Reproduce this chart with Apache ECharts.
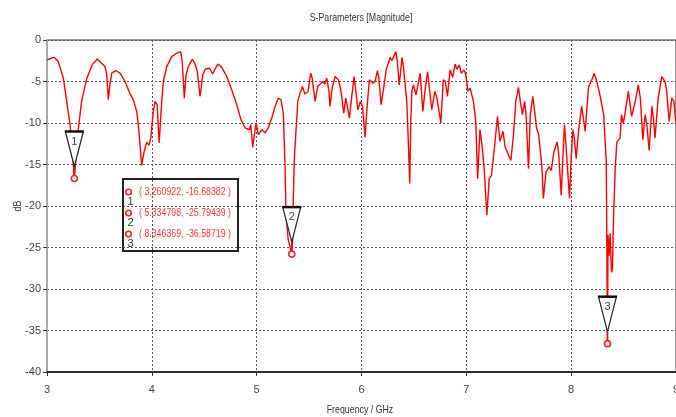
<!DOCTYPE html>
<html>
<head>
<meta charset="utf-8">
<script src="https://cdn.jsdelivr.net/npm/echarts@6/dist/echarts.min.js"></script>
<style>
html,body{margin:0;padding:0;background:#fff;}
#chart{width:676px;height:417px;}
</style>
</head>
<body>
<div id="chart"></div>
<script>
// Frequency (GHz) samples
const freq = [
3.00,3.04,3.07,3.108,3.156,3.188,3.22,3.24,3.261,3.28,3.30,3.33,3.38,3.43,3.48,3.52,3.553,3.57,3.585,3.60,
3.617,3.655,3.697,3.744,3.79,3.823,3.856,3.88,3.903,3.926,3.95,3.973,3.99,4.014,4.03,4.05,4.07,4.094,4.11,4.142,
4.19,4.237,4.275,4.29,4.31,4.326,4.348,4.36,4.386,4.41,4.434,4.46,4.486,4.51,4.55,4.58,4.603,4.63,4.667,4.715,
4.762,4.81,4.85,4.89,4.93,4.944,4.963,4.978,4.994,5.016,5.05,5.08,5.11,5.144,5.176,5.207,5.233,5.255,5.27,5.28,
5.30,5.335,5.343,5.35,5.36,5.373,5.392,5.414,5.436,5.46,5.49,5.516,5.53,5.557,5.583,5.60,5.63,5.65,5.668,5.69,
5.70,5.72,5.748,5.78,5.805,5.83,5.85,5.865,5.885,5.905,5.93,5.95,5.965,5.99,6.01,6.034,6.05,6.075,6.108,6.13,
6.152,6.165,6.187,6.216,6.235,6.273,6.29,6.327,6.34,6.36,6.387,6.40,6.432,6.446,6.46,6.47,6.48,6.495,6.52,6.56,
6.585,6.605,6.63,6.67,6.70,6.72,6.757,6.78,6.80,6.82,6.845,6.87,6.893,6.91,6.934,6.95,6.98,6.995,7.015,7.036,
7.068,7.09,7.108,7.13,7.15,7.17,7.196,7.218,7.24,7.27,7.297,7.32,7.35,7.37,7.40,7.425,7.45,7.472,7.497,7.515,
7.535,7.555,7.57,7.593,7.61,7.634,7.65,7.67,7.69,7.72,7.735,7.76,7.79,7.81,7.835,7.866,7.88,7.905,7.92,7.936,
7.95,7.984,8.00,8.015,8.03,8.048,8.07,8.10,8.134,8.166,8.197,8.22,8.245,8.277,8.31,8.335,8.343,8.346,8.349,8.352,
8.362,8.372,8.385,8.394,8.405,8.42,8.436,8.467,8.48,8.497,8.51,8.545,8.577,8.61,8.64,8.66,8.684,8.705,8.72,8.744,
8.77,8.785,8.80,8.83,8.864,8.895,8.91,8.935,8.96,8.98,9.00
];
// Magnitude (dB) at each frequency
const magDb = [
-2.4,-2.2,-2.1,-2.6,-4.6,-7.4,-10.2,-13.0,-16.68,-13.5,-10.6,-7.4,-4.6,-3.0,-2.3,-2.8,-3.2,-4.2,-7.2,-5.4,
-4.0,-3.7,-4.0,-5.0,-6.4,-7.2,-8.6,-11.4,-15.1,-13.5,-12.3,-12.7,-11.8,-8.6,-7.4,-7.8,-12.4,-7.4,-5.0,-3.2,
-2.0,-1.6,-1.4,-2.6,-7.0,-4.2,-3.2,-3.2,-2.3,-2.8,-3.8,-6.8,-4.2,-3.5,-3.4,-4.1,-3.5,-2.9,-3.3,-4.4,
-6.0,-7.8,-9.6,-10.6,-10.8,-10.2,-12.9,-11.4,-10.0,-11.4,-10.8,-11.2,-10.6,-9.4,-8.0,-7.0,-7.2,-9.0,-15.0,-21.0,
-24.0,-25.79,-24.0,-19.0,-14.0,-11.4,-7.4,-6.4,-5.6,-6.5,-6.2,-4.0,-4.6,-7.4,-5.6,-5.8,-5.0,-5.3,-4.6,-6.2,
-8.0,-5.8,-4.4,-4.8,-6.2,-8.8,-7.0,-7.2,-9.4,-7.0,-4.4,-6.6,-8.4,-7.4,-8.0,-11.7,-8.6,-4.8,-5.2,-5.0,
-3.7,-4.5,-7.8,-5.4,-3.6,-2.1,-2.5,-1.4,-2.4,-5.4,-2.1,-3.2,-7.4,-12.0,-17.3,-10.0,-6.2,-5.4,-6.6,-4.0,
-8.6,-6.2,-3.8,-8.4,-6.2,-7.0,-10.0,-4.8,-5.0,-6.8,-3.6,-4.5,-2.9,-3.5,-3.0,-4.0,-3.6,-4.2,-6.2,-5.8,
-7.4,-9.8,-16.7,-10.8,-12.7,-15.5,-21.1,-16.7,-16.3,-12.7,-9.2,-12.2,-11.0,-12.9,-13.8,-14.5,-11.4,-7.4,-5.7,-7.4,
-9.0,-7.4,-9.0,-15.5,-9.0,-6.8,-8.4,-10.6,-11.4,-15.1,-19.1,-15.9,-15.3,-15.7,-13.5,-12.3,-13.5,-18.7,-14.5,-10.2,
-12.5,-19.1,-14.5,-10.8,-11.8,-14.3,-11.0,-8.0,-11.0,-5.6,-4.8,-4.0,-5.0,-6.8,-9.0,-14.7,-30.0,-36.59,-30.0,-23.5,
-26.0,-23.3,-28.0,-27.5,-21.0,-15.5,-12.3,-11.8,-9.0,-10.0,-9.2,-6.2,-9.2,-7.5,-5.4,-7.0,-12.0,-9.0,-10.0,-13.3,
-8.0,-9.5,-11.8,-7.0,-4.4,-5.0,-6.0,-9.8,-7.0,-7.4,-10.2
];
// Markers
const markerFreq = [3.260922, 5.334798, 8.346369];
const markerDb = [-16.68382, -25.79439, -36.58719];
const markerIds = ['1', '2', '3'];

const xTicks = [3, 4, 5, 6, 7, 8, 9];
const yTicks = [0, -5, -10, -15, -20, -25, -30, -35, -40];

const titleText = 'S-Parameters [Magnitude]';
const xName = 'Frequency / GHz';
const yName = 'dB';

const FONT = '"Liberation Sans",Arial,sans-serif';
const SQ = 0.8; // horizontal squeeze of text to mimic the condensed font

const curve = freq.map((f, i) => [f, magDb[i]]);
const markers = markerFreq.map((f, i) => [f, markerDb[i], markerIds[i]]);

const chart = echarts.init(document.getElementById('chart'), null, {renderer: 'canvas'});

const legendChildren = [];
legendChildren.push({
  type: 'rect', shape: {x: 0, y: 0, width: 115, height: 72},
  style: {fill: '#fff', stroke: '#222', lineWidth: 2}
});
markers.forEach((m, i) => {
  const yy = 13 + i * 21;
  legendChildren.push({
    type: 'circle', shape: {cx: 5.5, cy: yy, r: 2.8},
    style: {fill: '#fff', stroke: '#ff2020', lineWidth: 1.6}
  });
  legendChildren.push({
    type: 'text', x: 7.5, y: yy + 10,
    style: {text: m[2], fill: '#333', font: '11px ' + FONT, textAlign: 'center', textVerticalAlign: 'middle'}
  });
  legendChildren.push({
    type: 'text', x: 16, y: yy, scaleX: SQ,
    style: {text: '( ' + m[0].toFixed(6) + ', ' + m[1].toFixed(5) + ' )', fill: '#ff3333',
      font: '11px ' + FONT, textAlign: 'left', textVerticalAlign: 'middle'}
  });
});

const option = {
  animation: false,
  backgroundColor: '#fff',
  grid: {left: 47, right: 0, top: 40, bottom: 45, outerBoundsMode: 'none', containLabel: false,
    show: true, borderColor: '#333', borderWidth: 1, backgroundColor: 'transparent'},
  xAxis: {
    type: 'value', min: xTicks[0], max: xTicks[xTicks.length - 1], interval: 1,
    axisLine: {show: true, onZero: false, lineStyle: {color: '#111', width: 1.5}},
    axisTick: {show: true, length: 4, lineStyle: {color: '#333'}},
    axisLabel: {fontSize: 11, color: '#444', margin: 12, fontFamily: FONT},
    splitLine: {show: true, lineStyle: {color: '#555', type: [2, 2], width: 1}}
  },
  yAxis: {
    type: 'value', min: yTicks[yTicks.length - 1], max: yTicks[0], interval: 5,
    axisLine: {show: true, onZero: false, lineStyle: {color: '#aaa', width: 2}},
    axisTick: {show: true, length: 4, lineStyle: {color: '#333'}},
    axisLabel: {fontSize: 11, color: '#444', margin: 6, fontFamily: FONT},
    splitLine: {show: true, lineStyle: {color: '#555', type: [2, 2], width: 1}}
  },
  series: [
    {
      type: 'line', data: curve, showSymbol: false, symbol: 'none',
      lineStyle: {color: '#ff0000', width: 1.4}, z: 3, clip: true
    },
    {
      type: 'custom', data: markers, z: 5, clip: false,
      renderItem: function (params, api) {
        const p = api.coord([api.value(0), api.value(1)]);
        const id = markerIds[params.dataIndex];
        return {
          type: 'group',
          children: [
            {type: 'polygon', shape: {points: [[p[0] - 9, p[1] - 47], [p[0] + 9, p[1] - 47], [p[0], p[1] - 12]]},
              style: {fill: '#fff', stroke: '#222', lineWidth: 1.2}},
            {type: 'line', shape: {x1: p[0] - 9.5, y1: p[1] - 47, x2: p[0] + 9.5, y2: p[1] - 47},
              style: {stroke: '#111', lineWidth: 2.5}},
            {type: 'text', x: p[0], y: p[1] - 37,
              style: {text: id, fill: '#444', font: '11px ' + FONT, textAlign: 'center', textVerticalAlign: 'middle'}},
            {type: 'line', shape: {x1: p[0], y1: p[1] - 12, x2: p[0], y2: p[1]},
              style: {stroke: '#ff0000', lineWidth: 1.4}},
            {type: 'circle', shape: {cx: p[0], cy: p[1], r: 3},
              style: {fill: '#fff', stroke: '#ff2020', lineWidth: 1.6}}
          ]
        };
      }
    }
  ],
  graphic: [
    {type: 'group', left: 122, top: 178, children: legendChildren, z: 10},
    {type: 'text', x: 361, y: 18, scaleX: SQ, z: 10,
      style: {text: titleText, fill: '#333', font: '11px ' + FONT, textAlign: 'center', textVerticalAlign: 'middle'}},
    {type: 'text', x: 360, y: 410, scaleX: SQ, z: 10,
      style: {text: xName, fill: '#333', font: '11px ' + FONT, textAlign: 'center', textVerticalAlign: 'middle'}},
    {type: 'text', x: 18, y: 206, rotation: Math.PI / 2, scaleX: SQ, z: 10,
      style: {text: yName, fill: '#333', font: '11px ' + FONT, textAlign: 'center', textVerticalAlign: 'middle'}}
  ]
};
chart.setOption(option);
</script>
</body>
</html>
